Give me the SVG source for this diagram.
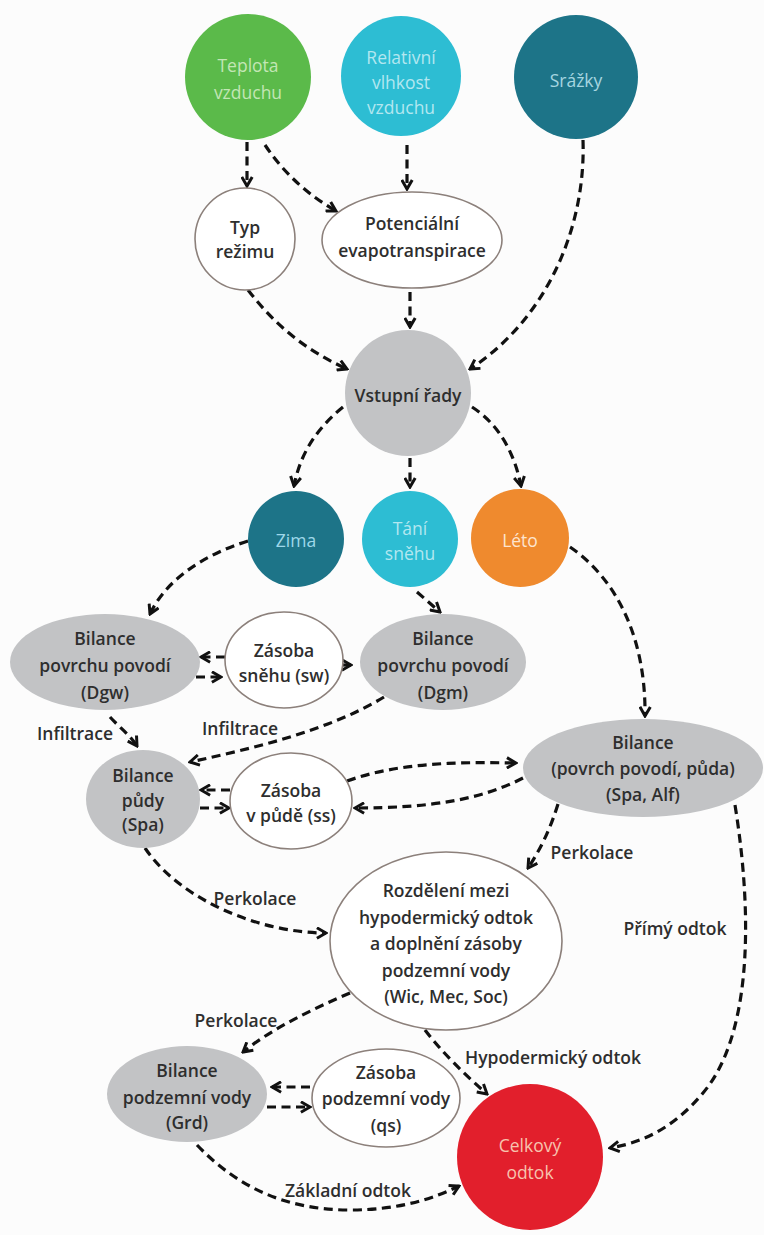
<svg xmlns="http://www.w3.org/2000/svg" width="764" height="1235" viewBox="0 0 764 1235">
<defs>
<marker id="ah" viewBox="0 0 10 10" refX="8.5" refY="5" markerWidth="13" markerHeight="13" markerUnits="userSpaceOnUse" orient="auto">
<path d="M1.5,1 L8.5,5 L1.5,9" fill="none" stroke="#111" stroke-width="2.3" stroke-linejoin="miter"/>
</marker>
<style>
text{font-family:"Open Sans","Liberation Sans",sans-serif;font-size:17.5px;text-anchor:middle;dominant-baseline:central}
.d{fill:#2e2e2e;font-weight:600}
.gray{fill:#c2c3c5}
.out{fill:#fff;stroke:#8c807b;stroke-width:1.6}
.c{fill:none;stroke:#111;stroke-width:3.2;stroke-dasharray:9 5.5;marker-end:url(#ah)}
.lbl{fill:#2e2e2e;font-weight:600}
</style>
</defs>
<rect width="764" height="1235" fill="#fcfcfc"/>

<g id="connectors">
<path class="c" d="M247,142 L247,186"/>
<path class="c" d="M265,145 C285,175 310,196 336,211"/>
<path class="c" d="M407,145 L407,189"/>
<path class="c" d="M583,140 C586,230 545,320 470,369"/>
<path class="c" d="M248,290 C275,325 305,350 347,369"/>
<path class="c" d="M410,292 L410,327"/>
<path class="c" d="M343,407 C315,430 300,455 294,486"/>
<path class="c" d="M410,458 L410,487"/>
<path class="c" d="M472,407 C500,425 515,455 521,486"/>
<path class="c" d="M248,541 C200,556 165,582 150,614"/>
<path class="c" d="M417,592 L440,612"/>
<path class="c" d="M570,547 C618,580 646,640 645,716"/>
<path class="c" d="M225,657 L201,657"/>
<path class="c" d="M196,677 L221,677"/>
<path class="c" d="M343,665 L351,665"/>
<path class="c" d="M110,717 C120,728 130,735 137,746"/>
<path class="c" d="M384,697 C330,730 255,748 190,762"/>
<path class="c" d="M230,790 L201,790"/>
<path class="c" d="M200,808 L229,808"/>
<path class="c" d="M347,781 C400,762 460,762 516,763"/>
<path class="c" d="M523,778 C480,800 430,808 355,808"/>
<path class="c" d="M558,804 C550,830 540,850 528,868"/>
<path class="c" d="M145,848 C180,900 260,933 326,933"/>
<path class="c" d="M735,805 C755,930 748,1040 703,1093 C672,1130 640,1143 610,1148"/>
<path class="c" d="M350,993 C310,1010 270,1030 243,1052"/>
<path class="c" d="M425,1030 C440,1050 465,1075 487,1094"/>
<path class="c" d="M310,1087 L272,1087"/>
<path class="c" d="M267,1107 L310,1107"/>
<path class="c" d="M197,1145 C240,1190 290,1210 350,1210 C400,1210 435,1198 459,1186"/>
</g>

<g id="labels">
<text class="lbl" x="75" y="733">Infiltrace</text>
<text class="lbl" x="240" y="728">Infiltrace</text>
<text class="lbl" x="255" y="898">Perkolace</text>
<text class="lbl" x="592" y="852">Perkolace</text>
<text class="lbl" x="675" y="928">Přímý odtok</text>
<text class="lbl" x="236" y="1020">Perkolace</text>
<text class="lbl" x="553" y="1057">Hypodermický odtok</text>
<text class="lbl" x="348" y="1190">Základní odtok</text>
</g>

<g id="teplota">
<circle cx="248" cy="77" r="63" fill="#5bba4a"/>
<text x="248" y="65" fill="#c3e6b5">Teplota</text>
<text x="248" y="92" fill="#c3e6b5">vzduchu</text>
</g>
<g id="vlhkost">
<circle cx="401" cy="76" r="60" fill="#2dbdd3"/>
<text x="401" y="57" fill="#b3e7f0">Relativní</text>
<text x="401" y="82" fill="#b3e7f0">vlhkost</text>
<text x="401" y="107" fill="#b3e7f0">vzduchu</text>
</g>
<g id="srazky">
<circle cx="576" cy="77" r="62" fill="#1d7488"/>
<text x="576" y="80" fill="#a6d6e0">Srážky</text>
</g>
<g id="typ">
<ellipse class="out" cx="245" cy="239" rx="50" ry="51"/>
<text class="d" x="245" y="227">Typ</text>
<text class="d" x="245" y="251">režimu</text>
</g>
<g id="potencialni">
<ellipse class="out" cx="412" cy="240" rx="90" ry="48"/>
<text class="d" x="412" y="223">Potenciální</text>
<text class="d" x="412" y="250">evapotranspirace</text>
</g>
<g id="vstupni">
<circle class="gray" cx="408" cy="393" r="63"/>
<text class="d" x="408" y="395">Vstupní řady</text>
</g>
<g id="zima">
<circle cx="296" cy="539" r="48" fill="#1d7488"/>
<text x="296" y="540" fill="#9fd8ea">Zima</text>
</g>
<g id="tani">
<circle cx="410" cy="539" r="48" fill="#2dbdd3"/>
<text x="410" y="528" fill="#b3e7f0">Tání</text>
<text x="410" y="553" fill="#b3e7f0">sněhu</text>
</g>
<g id="leto">
<circle cx="520" cy="538" r="49" fill="#ef8a2e"/>
<text x="520" y="540" fill="#fde4cf">Léto</text>
</g>
<g id="dgw">
<ellipse class="gray" cx="105" cy="662" rx="95" ry="48"/>
<text class="d" x="105" y="638">Bilance</text>
<text class="d" x="105" y="665">povrchu povodí</text>
<text class="d" x="105" y="692">(Dgw)</text>
</g>
<g id="sw">
<ellipse class="out" cx="284" cy="660" rx="59" ry="48"/>
<text class="d" x="284" y="650">Zásoba</text>
<text class="d" x="284" y="675">sněhu (sw)</text>
</g>
<g id="dgm">
<ellipse class="gray" cx="443" cy="662" rx="83" ry="48"/>
<text class="d" x="443" y="638">Bilance</text>
<text class="d" x="443" y="665">povrchu povodí</text>
<text class="d" x="443" y="692">(Dgm)</text>
</g>
<g id="spa">
<ellipse class="gray" cx="143" cy="799" rx="57" ry="49"/>
<text class="d" x="143" y="775">Bilance</text>
<text class="d" x="143" y="800">půdy</text>
<text class="d" x="143" y="824">(Spa)</text>
</g>
<g id="ss">
<ellipse class="out" cx="291" cy="801" rx="61" ry="48"/>
<text class="d" x="291" y="790">Zásoba</text>
<text class="d" x="291" y="815">v půdě (ss)</text>
</g>
<g id="spaalf">
<ellipse class="gray" cx="643" cy="768" rx="120" ry="49"/>
<text class="d" x="643" y="742">Bilance</text>
<text class="d" x="643" y="768">(povrch povodí, půda)</text>
<text class="d" x="643" y="794">(Spa, Alf)</text>
</g>
<g id="rozdeleni">
<ellipse class="out" cx="446" cy="941" rx="116" ry="89"/>
<text class="d" x="446" y="890">Rozdělení mezi</text>
<text class="d" x="446" y="917">hypodermický odtok</text>
<text class="d" x="446" y="943">a doplnění zásoby</text>
<text class="d" x="446" y="970">podzemní vody</text>
<text class="d" x="446" y="996">(Wic, Mec, Soc)</text>
</g>
<g id="grd">
<ellipse class="gray" cx="187" cy="1094" rx="80" ry="48"/>
<text class="d" x="187" y="1070">Bilance</text>
<text class="d" x="187" y="1097">podzemní vody</text>
<text class="d" x="187" y="1122">(Grd)</text>
</g>
<g id="qs">
<ellipse class="out" cx="386" cy="1098" rx="74" ry="49"/>
<text class="d" x="386" y="1072">Zásoba</text>
<text class="d" x="386" y="1098">podzemní vody</text>
<text class="d" x="386" y="1125">(qs)</text>
</g>
<g id="celkovy">
<circle cx="530" cy="1157" r="73" fill="#e21f2c"/>
<text x="530" y="1145" fill="#f7c3ae">Celkový</text>
<text x="530" y="1172" fill="#f7c3ae">odtok</text>
</g>
</svg>
